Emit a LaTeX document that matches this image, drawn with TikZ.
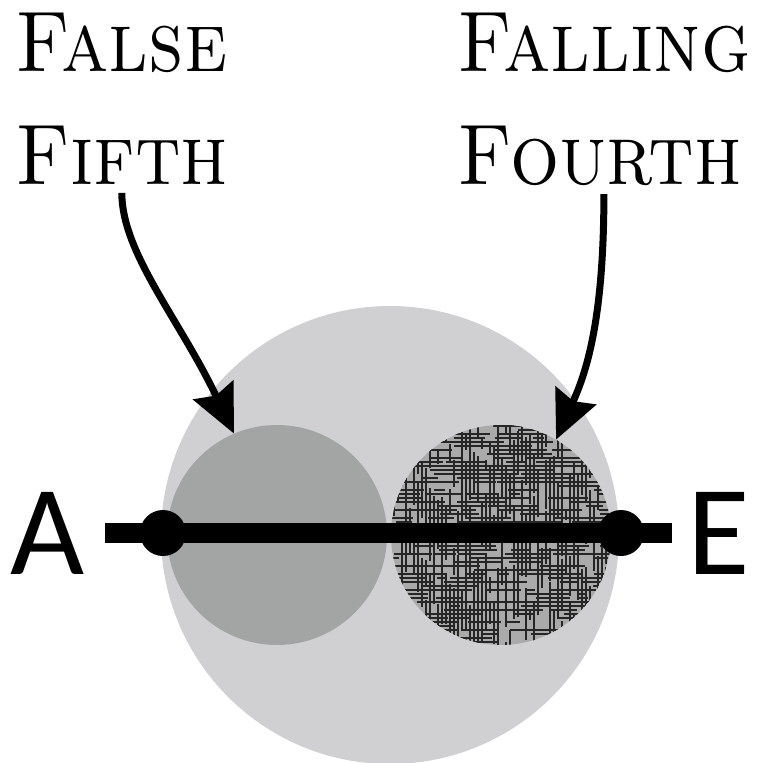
\documentclass[tikz,border=0pt]{standalone}
\usepackage{fontspec}
\newfontfamily\notefont{Carlito}
\newfontfamily\capsfont{lmromancaps10-regular.otf}[FakeStretch=0.9]
\usetikzlibrary{arrows.meta}
\definecolor{outergray}{RGB}{208,208,211}
\definecolor{fifthgray}{RGB}{163,165,165}
\definecolor{hatchgray}{RGB}{170,170,170}
\tikzset{
  lbl/.style={font=\capsfont\fontsize{86}{113}\selectfont, align=left, inner sep=8pt, anchor=north west},
  note/.style={font=\notefont\fontsize{128}{128}\selectfont, inner sep=0pt},
  disc/.style={circle, inner sep=0pt, minimum size=220pt},
  pin/.style={circle, fill=black, inner sep=0pt, minimum size=46pt},
  pointer/.style={line width=7pt, -{Stealth[length=48pt,width=44pt,inset=6pt]}},
  hatch/.style={line width=1.4pt, black!85}
}
\begin{document}
\begin{tikzpicture}[x=1pt,y=-1pt]
\useasboundingbox (0,0) rectangle (758,763);
% circles
\node[circle, fill=outergray, inner sep=0pt, minimum size=458pt] (big) at (390,535) {};
\node[disc, fill=fifthgray] (lo) at (277,535) {};
\node[disc, fill=hatchgray] (ro) at (501,535) {};
% crosshatch texture
\begin{scope}
\clip (ro.center) circle[radius=110];
\pgfmathsetseed{11}
\foreach \i in {1,...,380}{
  \pgfmathsetmacro\hx{380+rnd*230}
  \pgfmathsetmacro\hy{422+round(rnd*56)*4}
  \pgfmathsetmacro\hl{8+rnd*45}
  \draw[hatch] (\hx,\hy) -- ++(\hl,0);
}
\foreach \i in {1,...,380}{
  \pgfmathsetmacro\vx{390+round(rnd*56)*4}
  \pgfmathsetmacro\vy{415+rnd*230}
  \pgfmathsetmacro\vl{8+rnd*45}
  \draw[hatch] (\vx,\vy) -- ++(0,\vl);
}
\end{scope}
% the A--E line
\coordinate (bl) at (105,533);
\coordinate (br) at (672,533);
\draw[line width=20pt] (bl) -- (br);
\node[pin] (pa) at (163,533) {};
\node[pin] (pe) at (621,533) {};
\node[note] (na) at (48,533) {A};
\node[note] (ne) at (719,533) {E};
% labels
\node[lbl] (ff) at (7,5) {False\\Fifth};
\node[lbl] (fo) at (449,5) {Falling\\Fourth};
\draw[pointer] (ff.south) .. controls ([yshift=-60pt]ff.south) and (180,320) .. (lo.113);
\draw[pointer] (fo.south) .. controls ([yshift=-130pt]fo.south) and (585,375) .. (ro.60);
\end{tikzpicture}
\end{document}
